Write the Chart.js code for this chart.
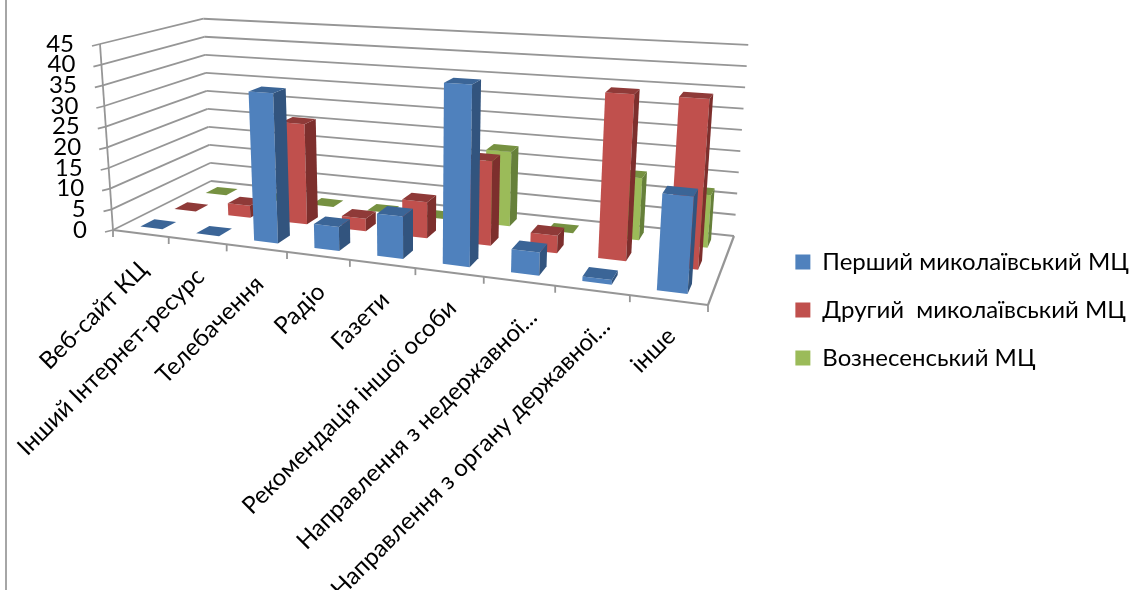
<!DOCTYPE html>
<html>
<head>
<meta charset="utf-8">
<script src="https://cdn.jsdelivr.net/npm/chart.js@4"></script>
<style>
  body { margin: 0; background: #fff; }
  canvas { display: block; }
</style>
</head>
<body>
<canvas id="chart" width="1134" height="590"></canvas>
<script>
const categories = [
  "Веб-сайт КЦ",
  "Інший Інтернет-ресурс",
  "Телебачення",
  "Радіо",
  "Газети",
  "Рекомендація іншої особи",
  "Направлення з недержавної...",
  "Направлення з органу державної...",
  "інше",
]
const firstCenter = [0, 0, 35, 5.5, 9.5, 40, 5, 1, 20]
const secondCenter = [0, 3, 24.5, 3, 8.5, 19.5, 4, 37, 37]
const voznesensk = [0, 0, 0, 0, 0, 18, 0, 14.5, 12]
const seriesNames = ["Перший миколаївський МЦ", "Другий  миколаївський МЦ", "Вознесенський МЦ"]
const frontColors = ["#4F81BD", "#C0504D", "#9BBB59"]
const topColors = ["#3B6597", "#8F3A38", "#769141"]
const sideColors = ["#32547E", "#7D2F2D", "#66803A"]

const fontName = "Lato, 'Open Sans', sans-serif"
const gridColor = "#969696"

// floor of the 3D box as seen on the page, and where its uprights meet
const floorCorners = [[113, 230], [708, 305], [734, 236], [211, 181]]
const vanishing = [414, 4531]
const nearHeight = 186

function makeHomography(q) {
  const [[x0, y0], [x1, y1], [x2, y2], [x3, y3]] = q
  const dx1 = x1 - x2, dx2 = x3 - x2, sx = x0 - x1 + x2 - x3
  const dy1 = y1 - y2, dy2 = y3 - y2, sy = y0 - y1 + y2 - y3
  const den = dx1 * dy2 - dx2 * dy1
  const g = (sx * dy2 - dx2 * sy) / den
  const h = (dx1 * sy - sx * dy1) / den
  const a = x1 - x0 + g * x1, b = x3 - x0 + h * x3
  const d = y1 - y0 + g * y1, e = y3 - y0 + h * y3
  return (u, v) => {
    const w = g * u + h * v + 1
    return [(a * u + b * v + x0) / w, (d * u + e * v + y0) / w, w]
  }
}

const floorMap = makeHomography(floorCorners)

// u along categories, v into depth, h up the value axis (all 0..1)
function project(u, v, h) {
  const [x, y, w] = floorMap(u, v)
  const rise = (nearHeight / w) * h
  return [x + ((x - vanishing[0]) * rise) / (vanishing[1] - y), y - rise]
}

function line(ctx, a, b) {
  ctx.beginPath()
  ctx.moveTo(a[0], a[1])
  ctx.lineTo(b[0], b[1])
  ctx.stroke()
}

function face(ctx, pts, color) {
  ctx.fillStyle = color
  ctx.beginPath()
  pts.forEach((p, i) => (i ? ctx.lineTo(p[0], p[1]) : ctx.moveTo(p[0], p[1])))
  ctx.closePath()
  ctx.fill()
}

const box3d = {
  id: "box3d",
  beforeDatasetsDraw(chart) {
    const { ctx, chartArea: area, scales } = chart
    const yScale = scales.y
    const level = (value) => (area.bottom - yScale.getPixelForValue(value)) / area.height

    ctx.save()
    // frame line at the left of the page
    ctx.strokeStyle = "#A6A6A6"
    ctx.lineWidth = 2
    line(ctx, [6, 0], [6, 590])

    // walls
    ctx.strokeStyle = gridColor
    ctx.lineWidth = 1.8
    yScale.ticks.forEach((tick) => {
      const h = level(tick.value)
      const front = project(0, 0, h)
      line(ctx, [front[0] - 8, front[1] + 2], front)
      line(ctx, front, project(0, 1, h))
      line(ctx, project(0, 1, h), project(1, 1, h))

      ctx.fillStyle = "#000"
      ctx.font = "24px " + fontName
      ctx.textAlign = "right"
      ctx.textBaseline = "middle"
      ctx.fillText(tick.label, front[0] - 26, front[1])
    })

    // axis lines round the floor
    line(ctx, project(0, 0, 0), project(0, 0, 1))
    ctx.lineWidth = 2.2
    line(ctx, project(0, 0, 0), project(1, 0, 0))
    line(ctx, project(1, 0, 0), project(1, 1, 0))
    ctx.lineWidth = 1.8

    // category ticks and slanted labels
    categories.forEach((name, i) => {
      const start = project(i / categories.length, 0, 0)
      line(ctx, start, [start[0], start[1] + 7])
      const mid = project((i + 0.5) / categories.length, 0, 0)
      // shortened labels sit a little further right in the original
      const shift = name.endsWith("...") ? 11 : 0
      ctx.save()
      ctx.translate(mid[0] + 3 + shift, mid[1] + 32)
      ctx.rotate(-Math.PI / 4)
      ctx.fillStyle = "#000"
      ctx.font = "24px " + fontName
      ctx.textAlign = "right"
      ctx.textBaseline = "middle"
      ctx.fillText(name, 0, 0)
      ctx.restore()
    })
    line(ctx, project(1, 0, 0), [project(1, 0, 0)[0], project(1, 0, 0)[1] + 7])

    // bars, back series first
    for (let s = chart.data.datasets.length - 1; s >= 0; s--) {
      const meta = chart.getDatasetMeta(s)
      const v0 = (s + 0.3) / 3
      const v1 = (s + 0.7) / 3
      meta.data.forEach((bar) => {
        const u0 = (bar.x - bar.width / 2 - area.left) / area.width
        const u1 = (bar.x + bar.width / 2 - area.left) / area.width
        const h = (area.bottom - bar.y) / area.height
        face(ctx, [project(u0, v0, 0), project(u1, v0, 0), project(u1, v0, h), project(u0, v0, h)], frontColors[s])
        face(ctx, [project(u1, v0, 0), project(u1, v1, 0), project(u1, v1, h), project(u1, v0, h)], sideColors[s])
        face(ctx, [project(u0, v0, h), project(u1, v0, h), project(u1, v1, h), project(u0, v1, h)], topColors[s])
      })
    }
    ctx.restore()
    return false
  },
}

new Chart(document.getElementById("chart"), {
  type: "bar",
  data: {
    labels: categories,
    datasets: [
      { label: seriesNames[0], data: firstCenter, backgroundColor: frontColors[0] },
      { label: seriesNames[1], data: secondCenter, backgroundColor: frontColors[1] },
      { label: seriesNames[2], data: voznesensk, backgroundColor: frontColors[2] },
    ],
  },
  options: {
    responsive: false,
    animation: false,
    grouped: false,
    categoryPercentage: 1,
    barPercentage: 0.4,
    layout: { padding: { top: 30, right: -5 } },
    scales: {
      x: { display: false },
      y: { display: false, min: 0, max: 45, ticks: { stepSize: 5 } },
    },
    plugins: {
      tooltip: { enabled: false },
      legend: {
        position: "right",
        labels: {
          boxWidth: 15,
          boxHeight: 15,
          padding: 24,
          color: "#000",
          font: { family: fontName, size: 24 },
        },
      },
    },
  },
  plugins: [box3d],
})
</script>
</body>
</html>
